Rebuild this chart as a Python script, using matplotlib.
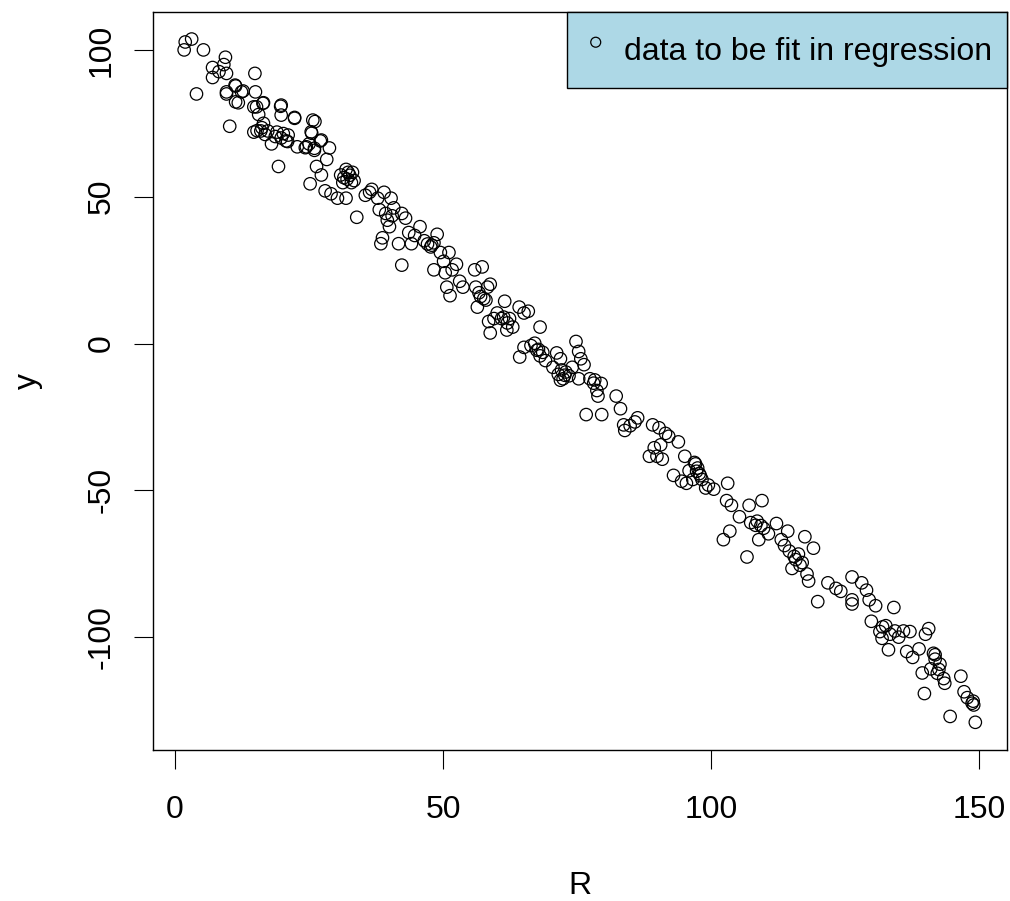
import matplotlib
matplotlib.use("Agg")
import matplotlib.pyplot as plt

plt.rcParams['font.family'] = ['Liberation Sans', 'DejaVu Sans']
plt.rcParams['axes.unicode_minus'] = False

# points (R on x, y on y)
R = [1.9, 1.7, 3.1, 5.3, 4.0, 7.0, 7.0, 8.2, 9.4, 9.1, 9.6, 9.6, 10.2, 11.3, 11.8, 12.7,
     14.9, 15.0, 14.7, 15.6, 14.7, 16.0, 16.5, 16.5, 17.3, 18.0, 19.0, 19.7, 19.3, 19.8,
     20.7, 21.1, 22.3, 22.8, 24.3, 25.0, 25.5, 26.1, 25.2, 26.0, 26.4, 27.1, 27.3, 28.3,
     28.8, 28.0, 29.1, 30.3, 30.9, 31.3, 31.9, 32.3, 32.1, 32.9, 33.1, 31.9, 33.9, 35.5,
     36.3, 36.7, 37.8, 38.1, 38.4, 38.7, 39.0, 39.3, 40.0, 40.3, 40.8, 41.7, 42.3, 42.3,
     43.0, 43.6, 44.1, 44.7, 45.7, 46.5, 47.1, 47.7, 48.9, 48.3, 49.5, 50.1, 50.4, 50.7,
     51.1, 51.3, 51.7, 52.5, 53.1, 53.7, 55.9, 56.1, 56.4, 56.7, 57.3, 57.6, 58.3, 58.8,
     58.5, 58.8, 59.5, 60.1, 60.9, 61.5, 61.9, 62.4, 63.0, 64.2, 65.1, 65.9, 64.3, 65.1,
     66.4, 67.5, 68.1, 67.1, 68.1, 69.1, 70.5, 71.2, 71.5, 71.9, 72.4, 72.9, 73.5, 74.1,
     74.8, 75.3, 75.7, 76.3, 76.7, 75.3, 77.4, 78.3, 78.7, 78.9, 79.5, 79.6, 82.3, 83.1,
     83.7, 83.9, 84.9, 85.8, 86.3, 89.1, 88.5, 89.4, 89.9, 90.3, 90.6, 90.9, 91.5, 92.1,
     93.0, 93.9, 94.5, 95.1, 95.4, 95.9, 96.6, 97.1, 97.5, 97.8, 98.3, 99.0, 99.5, 100.5,
     102.3, 102.9, 103.1, 103.5, 103.8, 105.3, 106.7, 107.1, 107.4, 108.3, 108.9, 109.5,
     109.8, 110.7, 112.2, 113.1, 113.7, 114.3, 114.6, 115.1, 115.8, 116.3, 117.0, 117.5,
     117.9, 118.2, 119.1, 119.9, 121.8, 123.3, 124.2, 126.3, 126.3, 128.1, 129.0, 129.5,
     126.3, 129.9, 130.7, 131.5, 131.9, 132.6, 133.1, 134.1, 134.3, 135.0, 135.9, 136.5,
     137.1, 137.6, 138.8, 139.4, 139.8, 140.0, 140.6, 141.0, 141.5, 141.8, 142.2, 142.7,
     143.4, 143.6, 144.6, 146.6, 147.2, 147.8, 148.7, 149.0, 149.3,
     15.3, 16.2, 16.8, 18.7, 20.2, 21.0, 31.5, 32.6, 33.4, 39.6, 40.5, 47.9, 48.3, 57.0,
     58.0, 62.0, 61.3, 67.8, 68.6, 72.1, 72.7, 71.9, 78.1, 96.9, 97.3, 98.0, 108.6, 109.3,
     115.5, 116.6, 132.0, 133.4, 141.8, 142.5, 148.9,
     9.6, 11.2, 11.3, 12.4, 15.2, 16.4, 19.8, 19.8, 22.3, 25.7, 25.4, 27.3, 24.5, 26.0]
y = [102.7, 100.0, 103.7, 100.0, 85.0, 94.0, 90.6, 92.6, 97.5, 95.0, 92.0, 85.0, 74.0, 87.7, 82.0, 86.0,
     92.0, 85.7, 80.6, 78.0, 72.0, 72.4, 75.0, 82.0, 72.4, 68.0, 72.0, 80.8, 60.3, 70.0,
     69.0, 71.0, 77.0, 67.0, 66.7, 68.0, 71.6, 75.6, 54.4, 65.8, 60.3, 69.0, 57.4, 62.7,
     66.6, 52.0, 51.0, 49.5, 57.4, 54.8, 59.3, 58.3, 56.0, 54.8, 58.3, 49.5, 43.0, 50.5,
     51.5, 52.5, 49.5, 45.6, 34.0, 36.0, 51.5, 44.3, 39.8, 49.5, 46.2, 34.0, 44.3, 26.7,
     42.7, 37.8, 34.0, 36.8, 39.8, 35.0, 33.9, 32.9, 37.2, 25.1, 31.0, 28.0, 24.1, 19.2,
     31.0, 16.3, 25.1, 27.0, 21.2, 19.2, 25.1, 19.2, 12.4, 17.3, 26.1, 15.3, 19.2, 20.2,
     7.5, 3.6, 8.5, 10.4, 8.5, 14.4, 4.6, 8.5, 5.6, 12.4, 10.4, 11.0, -4.6, -1.3,
     -0.7, -2.3, 5.6, 0.1, -4.2, -5.8, -8.1, -3.2, -10.5, -5.2, -12.0, -9.7, -11.0, -8.1,
     0.7, -2.7, -5.2, -7.2, -24.2, -12.0, -12.0, -12.4, -16.0, -17.9, -13.6, -24.2, -17.9, -22.2,
     -27.7, -29.6, -28.0, -26.7, -25.3, -27.7, -38.4, -35.5, -38.4, -28.7, -34.5, -39.4, -30.6, -31.6,
     -44.9, -33.5, -46.9, -38.4, -47.6, -43.3, -46.3, -41.0, -42.4, -44.3, -46.3, -49.2, -48.2, -49.6,
     -66.8, -53.5, -47.6, -63.9, -55.1, -59.0, -72.7, -55.1, -61.0, -61.9, -66.8, -53.5,
     -62.9, -64.8, -61.3, -66.8, -68.8, -63.9, -70.7, -76.6, -73.6, -71.7, -74.6, -65.8,
     -78.5, -80.9, -69.7, -87.9, -81.5, -83.4, -84.4, -79.5, -87.3, -81.5, -84.0, -87.3,
     -88.7, -94.6, -89.3, -98.1, -100.4, -96.1, -104.3, -89.9, -97.9, -100.0, -97.9, -104.9,
     -98.1, -106.9, -104.0, -112.2, -119.2, -99.0, -97.1, -110.8, -105.5, -107.5, -112.3, -109.2,
     -114.1, -115.7, -127.0, -113.3, -118.6, -120.6, -122.5, -123.1, -129.0,
     72.5, 73.5, 71.2, 70.5, 71.5, 68.8, 56.5, 57.3, 55.5, 42.0, 43.5, 33.5, 34.3, 16.0,
     14.8, 7.0, 9.0, -2.0, -3.0, -9.0, -10.8, -12.5, -13.5, -40.5, -43.5, -45.0, -60.5, -62.0,
     -72.5, -75.5, -96.5, -99.0, -106.0, -111.0, -121.8,
     85.7, 88.0, 82.3, 85.7, 80.6, 81.8, 81.2, 77.8, 76.7, 76.1, 72.1, 69.3, 67.0, 66.5]

x_ticks = [0, 50, 100, 150]
y_ticks = [-100, -50, 0, 50, 100]

fig = plt.figure(figsize=(10.1, 9.01), dpi=100)
ax = fig.add_axes([0.151, 0.168, 0.846, 0.819])

ax.scatter(R, y, s=80, facecolors='none', edgecolors='black', linewidths=0.9,
           label='data to be fit in regression')
ax.margins(0.04)

ax.set_xticks(x_ticks)
ax.set_yticks(y_ticks)
ax.tick_params(length=13.5, width=0.8, labelsize=23, pad=12)
ax.tick_params(axis='x', pad=19)
plt.setp(ax.get_yticklabels(), rotation=90, va='center')
for s in ax.spines.values():
    s.set_linewidth(1.0)

ax.set_xlabel('R', fontsize=23)
ax.set_ylabel('y', fontsize=23)
ax.xaxis.set_label_coords(0.5, -0.165)
ax.yaxis.set_label_coords(-0.128, 0.5)

leg = ax.legend(loc='upper right', borderaxespad=0, fontsize=23, fancybox=False,
                framealpha=1, facecolor='#ADD8E6', edgecolor='black',
                handlelength=0.9, handletextpad=0.45, borderpad=0.45,
                handleheight=1.9, markerscale=0.8)
leg.get_frame().set_linewidth(1.0)

fig.savefig('out.png', dpi=100)
